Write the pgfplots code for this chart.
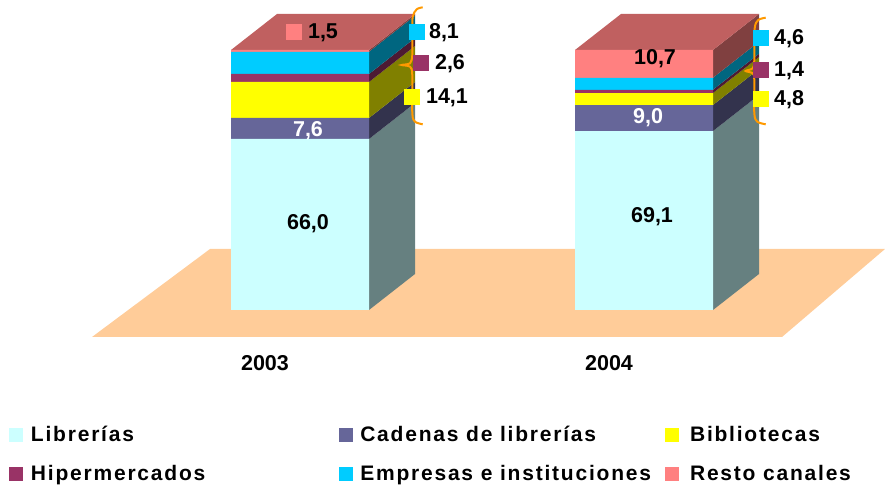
\documentclass[border=0pt]{standalone}
\usepackage{fontspec}
\setmainfont{Liberation Sans}
\newfontfamily\legfont[LetterSpace=8.5]{Liberation Sans}
\usepackage{pgfplots}
\pgfplotsset{compat=1.18}

\definecolor{cLib}{HTML}{CCFFFF}
\definecolor{cCad}{HTML}{666699}
\definecolor{cBib}{HTML}{FFFF00}
\definecolor{cHip}{HTML}{993366}
\definecolor{cEmp}{HTML}{00CCFF}
\definecolor{cRes}{HTML}{FF8080}
\definecolor{sLib}{HTML}{668080}
\definecolor{sCad}{HTML}{33334D}
\definecolor{sBib}{HTML}{808000}
\definecolor{sHip}{HTML}{4D1A33}
\definecolor{sEmp}{HTML}{006680}
\definecolor{sRes}{HTML}{804040}
\definecolor{cTop}{HTML}{C06060}
\definecolor{cFloor}{HTML}{FFCC99}
\definecolor{cBrace}{HTML}{FF9900}

\pgfplotsset{
  base/.style={scale only axis, width=885pt, height=486pt, hide axis, xmin=0, xmax=885},
  face/.style={fill=#1, draw=none, mark=none},
  sq/.style={only marks, mark=square*, mark size=7.5pt, mark options={fill=#1, draw=#1, line width=0pt}},
  brace/.style={smooth, tension=0.5, cBrace, line width=2pt, mark=none},
  seg/.style={fill=#1, draw=none,
    legend image code/.code={\fill[#1] (0pt,-7pt) rectangle (14pt,7pt);}},
}
\newcommand{\lab}[3]{\node[font=\fontsize{21.5}{24}\selectfont\bfseries, yshift=-1.5pt] at (axis cs:#1,#2) {#3};}
\newcommand{\wlab}[3]{\node[font=\fontsize{21.5}{24}\selectfont\bfseries, text=white, yshift=-1.5pt] at (axis cs:#1,#2) {#3};}

\begin{document}
\begin{tikzpicture}
\useasboundingbox (0,0) rectangle (885pt,486pt);
% pixel axis: floor, side faces, tops, braces, outer labels
\begin{axis}[base, ymin=0, ymax=486, y dir=reverse]
\addplot[face=cFloor] coordinates {(92,337) (782,337) (885,249) (210,249)} --cycle;
% 2003 sides
\addplot[face=sLib] coordinates {(369,310) (415,274) (415,103) (369,139)} --cycle;
\addplot[face=sCad] coordinates {(369,139) (415,103) (415,82) (369,118)} --cycle;
\addplot[face=sBib] coordinates {(369,118) (415,82) (415,46) (369,82)} --cycle;
\addplot[face=sHip] coordinates {(369,82) (415,46) (415,38) (369,74)} --cycle;
\addplot[face=sEmp] coordinates {(369,74) (415,38) (415,15.7) (369,51.7)} --cycle;
\addplot[face=sRes] coordinates {(369,51.7) (415,15.7) (415,14) (369,50)} --cycle;
\addplot[face=cTop] coordinates {(231,50) (277,14) (415,14) (369,50)} --cycle;
% 2004 sides
\addplot[face=sLib] coordinates {(713,310) (759,274) (759,95) (713,131)} --cycle;
\addplot[face=sCad] coordinates {(713,131) (759,95) (759,69) (713,105)} --cycle;
\addplot[face=sBib] coordinates {(713,105) (759,69) (759,57) (713,93)} --cycle;
\addplot[face=sHip] coordinates {(713,93) (759,57) (759,53.7) (713,89.7)} --cycle;
\addplot[face=sEmp] coordinates {(713,89.7) (759,53.7) (759,41.7) (713,77.7)} --cycle;
\addplot[face=sRes] coordinates {(713,77.7) (759,41.7) (759,14) (713,50)} --cycle;
\addplot[face=cTop] coordinates {(575,50) (621,14) (759,14) (713,50)} --cycle;
% braces
\addplot[brace] coordinates {(422.7,7.3) (416.7,9.3) (412.7,16.7) (412.3,33) (412.3,55) (410,63.3) (401.7,65) (410,66.7) (412.3,75) (412.3,113.3) (415,121.7) (422.7,124.3)};
\addplot[brace] coordinates {(765.7,17.7) (758.3,20) (754.7,28.3) (754.3,60) (752.7,68.3) (745.7,71) (752.7,73.3) (754.3,80) (754.3,113.3) (757.3,121.7) (765.7,124.3)};
% small colour keys beside the values
\addplot[sq=cRes] coordinates {(293.5,32.5)};
\addplot[sq=cEmp] coordinates {(416.5,32.5) (760.5,38.5)};
\addplot[sq=cHip] coordinates {(420.5,63.5) (760.5,70.5)};
\addplot[sq=cBib] coordinates {(411.5,97.5) (760.5,99.5)};
\lab{323}{31}{1,5}
\lab{444}{31}{8,1}
\lab{450}{62}{2,6}
\lab{447}{96}{14,1}
\lab{789}{37}{4,6}
\lab{789}{69}{1,4}
\lab{789}{98}{4,8}
\lab{265}{362}{2003}
\lab{609}{362}{2004}
\end{axis}
% percent axis: front of the stacked bars and the legend
\begin{axis}[base, ymin=-67.69, ymax=119.23,
  ybar stacked, bar width=138pt,
  legend columns=3, legend cell align=left,
  legend style={draw=none, fill=none, at={(0,0)}, anchor=south west,
    xshift=9pt, yshift=4pt, inner sep=0pt, outer sep=0pt,
    font=\legfont\fontsize{21}{24}\selectfont\bfseries,
    row sep=22pt,
    nodes={inner sep=0pt, outer sep=0pt},
    /tikz/column 1/.style={column sep=8pt},
    /tikz/column 2/.style={column sep=134pt},
    /tikz/column 3/.style={column sep=7pt},
    /tikz/column 4/.style={column sep=14pt},
    /tikz/column 5/.style={column sep=11pt}},
]
\addplot[seg=cLib] coordinates {(300,65.8) (644,68.8)};
\addlegendentry{Librerías}
\addplot[seg=cCad] coordinates {(300,8.1) (644,10.0)};
\addlegendentry{Cadenas de librerías}
\addplot[seg=cBib] coordinates {(300,13.8) (644,4.6)};
\addlegendentry{Bibliotecas}
\addplot[seg=cHip] coordinates {(300,3.1) (644,1.3)};
\addlegendentry{Hipermercados}
\addplot[seg=cEmp] coordinates {(300,8.5) (644,4.6)};
\addlegendentry{Empresas e instituciones}
\addplot[seg=cRes] coordinates {(300,0.7) (644,10.7)};
\addlegendentry{Resto canales}
\end{axis}
% labels that sit on the front of the bars
\begin{axis}[base, ymin=0, ymax=486, y dir=reverse]
\lab{308}{222}{66,0}
\lab{652}{215}{69,1}
\wlab{308}{129}{7,6}
\wlab{648}{116}{9,0}
\lab{655}{57}{10,7}
\end{axis}
\end{tikzpicture}
\end{document}
